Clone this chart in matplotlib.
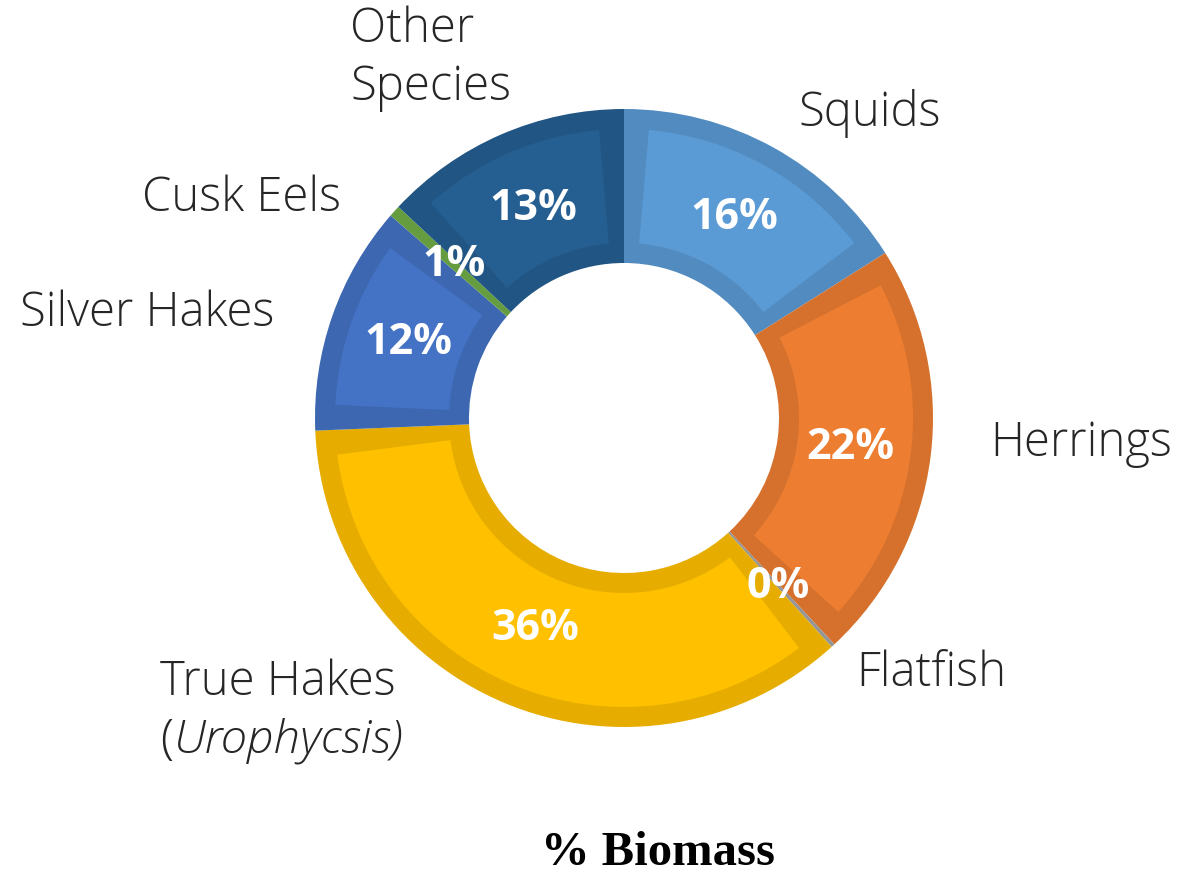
import matplotlib
matplotlib.use("Agg")
import matplotlib.pyplot as plt
from matplotlib.patches import Wedge
from matplotlib.colors import to_rgb
import numpy as np

# Share of total biomass by group, clockwise from 12 o'clock
species = ["Squids", "Herrings", "Flatfish", "True Hakes", "Silver Hakes", "Cusk Eels", "Other Species"]
biomass_pct = [16, 22, 0.2, 36, 12, 0.6, 13]
colors = ["#5B9BD5", "#ED7D31", "#A5A5A5", "#FFC000", "#4472C4", "#70AD47", "#255E91"]

W, H = 1202, 875
fig = plt.figure(figsize=(W / 100, H / 100), dpi=100)
ax = fig.add_axes([0, 0, 1, 1])

cx, cy = 624, H - 418
r_out, ring = 309, 154


def darker(c, f=0.9):
    r, g, b = to_rgb(c)
    return (r * f, g * f, b * f)


wedges, _, pct_texts = ax.pie(
    biomass_pct, colors=[darker(c) for c in colors], startangle=90, counterclock=False,
    radius=r_out, center=(cx, cy), frame=True,
    wedgeprops=dict(width=ring, linewidth=0),
    autopct=lambda p: f"{p:.0f}%", pctdistance=0.74,
    textprops=dict(color="white", fontsize=31, fontweight="bold", family="Open Sans"),
)
ax.set_xlim(0, W)
ax.set_ylim(0, H)
ax.set_aspect("equal")
ax.axis("off")

# Bevel: lighter inner panel inset inside each segment
inset = 20
r_mid = r_out - ring / 2
for w, c in zip(wedges, colors):
    t1, t2 = w.theta1, w.theta2
    dtheta = np.degrees(inset / r_mid)
    if t2 - t1 > 2 * dtheta + 1:
        ax.add_patch(Wedge((cx, cy), r_out - inset, t1 + dtheta, t2 - dtheta,
                           width=ring - 2 * inset, facecolor=c, linewidth=0, zorder=1.5))
for t in pct_texts:
    t.set_zorder(3)

label_kw = dict(fontsize=34, color="#262626", family="Open Sans", fontweight="light", va="center")
ax.text(350, H - 30, "Other", ha="left", **label_kw)
ax.text(350, H - 88, "Species", ha="left", **label_kw)
ax.text(798, H - 114, "Squids", ha="left", **label_kw)
ax.text(142, H - 199, "Cusk Eels", ha="left", **label_kw)
ax.text(20, H - 314, "Silver Hakes", ha="left", **label_kw)
ax.text(990, H - 444, "Herrings", ha="left", **label_kw)
ax.text(856, H - 674, "Flatfish", ha="left", **label_kw)
ax.text(160, H - 683, "True Hakes", ha="left", **label_kw)
ax.text(160, H - 741, "(", ha="left", **label_kw)
ax.text(174, H - 741, "Urophycsis)", ha="left", style="italic", **label_kw)

ax.text(658, H - 853, "% Biomass", ha="center", va="center", fontsize=35,
        fontweight="bold", family="Liberation Serif", color="black")

fig.savefig("out.png", dpi=100)
